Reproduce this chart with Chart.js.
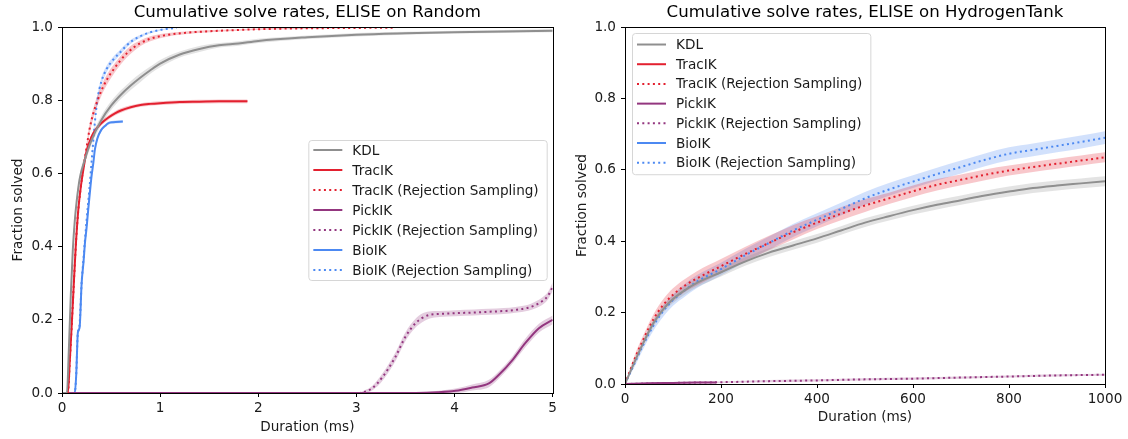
<!DOCTYPE html>
<html>
<head>
<meta charset="utf-8">
<script src="https://cdn.jsdelivr.net/npm/chart.js@4"></script>
<style>
body { margin: 0; background: #fff; width: 1128px; height: 439px; overflow: hidden; position: relative; }
canvas { position: absolute; top: 0; }
#left { left: 0; }
#right { left: 560px; }
</style>
</head>
<body>
<canvas id="left" width="560" height="439"></canvas>
<canvas id="right" width="568" height="439"></canvas>
<script>
// ---------- ELISE on Random (duration in ms) ----------
var rndKdlX = [0, 0.05, 0.07, 0.09, 0.11, 0.13, 0.15, 0.18, 0.23, 0.3, 0.4, 0.5, 0.6, 0.7, 0.8, 0.9, 1.0, 1.2, 1.4, 1.6, 1.8, 2.0, 2.5, 3.0, 3.5, 4.0, 4.5, 5.0];
var rndKdlY = [0, 0, 0.12, 0.27, 0.39, 0.47, 0.525, 0.585, 0.635, 0.69, 0.745, 0.785, 0.815, 0.84, 0.862, 0.882, 0.9, 0.925, 0.94, 0.95, 0.955, 0.962, 0.972, 0.979, 0.983, 0.986, 0.988, 0.99];
var rndKdlErr = [0, 0, 0.01, 0.01, 0.01, 0.01, 0.012, 0.012, 0.012, 0.012, 0.012, 0.012, 0.012, 0.012, 0.012, 0.01, 0.01, 0.008, 0.008, 0.006, 0.006, 0.006, 0.005, 0.005, 0.004, 0.004, 0.004, 0.004];

var rndTracX = [0, 0.06, 0.08, 0.1, 0.115, 0.14, 0.166, 0.19, 0.217, 0.25, 0.3, 0.35, 0.4, 0.47, 0.54, 0.6, 0.7, 0.8, 0.9, 1.0, 1.2, 1.4, 1.6, 1.89];
var rndTracY = [0, 0, 0.09, 0.19, 0.27, 0.4, 0.5, 0.56, 0.609, 0.66, 0.7, 0.722, 0.737, 0.752, 0.764, 0.772, 0.781, 0.787, 0.79, 0.792, 0.795, 0.796, 0.797, 0.797];
var rndTracErr = [0, 0, 0.006, 0.006, 0.006, 0.006, 0.006, 0.006, 0.006, 0.006, 0.006, 0.006, 0.006, 0.006, 0.006, 0.006, 0.005, 0.005, 0.005, 0.005, 0.005, 0.005, 0.005, 0.005];

var rndTracRsX = [0, 0.06, 0.08, 0.1, 0.115, 0.14, 0.166, 0.19, 0.217, 0.25, 0.28, 0.32, 0.37, 0.42, 0.47, 0.52, 0.59, 0.66, 0.73, 0.8, 0.9, 1.06, 1.25, 1.47, 1.8, 2.15, 2.7, 3.37];
var rndTracRsY = [0, 0, 0.09, 0.19, 0.27, 0.4, 0.5, 0.56, 0.615, 0.67, 0.72, 0.765, 0.805, 0.837, 0.862, 0.882, 0.907, 0.928, 0.944, 0.956, 0.968, 0.978, 0.984, 0.988, 0.992, 0.995, 0.997, 0.998];
var rndTracRsErr = [0, 0, 0.008, 0.008, 0.008, 0.01, 0.01, 0.01, 0.012, 0.012, 0.014, 0.014, 0.014, 0.014, 0.014, 0.013, 0.012, 0.011, 0.01, 0.008, 0.007, 0.005, 0.004, 0.003, 0.002, 0.002, 0.001, 0.001];

var rndPickX = [0, 3.6, 3.84, 4.01, 4.18, 4.35, 4.45, 4.59, 4.72, 4.86, 5.0];
var rndPickY = [0, 0, 0.002, 0.006, 0.015, 0.026, 0.049, 0.09, 0.136, 0.177, 0.2];
var rndPickErr = [0, 0.002, 0.004, 0.006, 0.008, 0.01, 0.01, 0.01, 0.012, 0.012, 0.012];

var rndPickRsX = [0, 3.0, 3.08, 3.16, 3.27, 3.4, 3.5, 3.6, 3.67, 3.74, 3.85, 4.01, 4.2, 4.35, 4.5, 4.62, 4.75, 4.82, 4.9, 4.95, 5.0];
var rndPickRsY = [0, 0, 0.003, 0.013, 0.045, 0.1, 0.154, 0.19, 0.205, 0.213, 0.216, 0.218, 0.22, 0.222, 0.224, 0.227, 0.233, 0.24, 0.252, 0.265, 0.29];
var rndPickRsErr = [0, 0, 0.004, 0.006, 0.01, 0.012, 0.012, 0.012, 0.012, 0.01, 0.008, 0.008, 0.008, 0.008, 0.008, 0.008, 0.008, 0.009, 0.01, 0.01, 0.012];

var rndBioX = [0, 0.13, 0.145, 0.16, 0.166, 0.18, 0.2, 0.22, 0.234, 0.25, 0.267, 0.285, 0.3, 0.32, 0.335, 0.36, 0.4, 0.44, 0.47, 0.52, 0.62];
var rndBioY = [0, 0, 0.05, 0.16, 0.17, 0.18, 0.3, 0.36, 0.41, 0.45, 0.5, 0.55, 0.59, 0.63, 0.665, 0.695, 0.719, 0.73, 0.737, 0.74, 0.742];
var rndBioErr = [0, 0, 0.004, 0.004, 0.004, 0.004, 0.005, 0.005, 0.005, 0.005, 0.005, 0.005, 0.005, 0.005, 0.005, 0.005, 0.005, 0.004, 0.004, 0.004, 0.004];

var rndBioRsX = [0, 0.13, 0.145, 0.16, 0.166, 0.18, 0.2, 0.22, 0.25, 0.28, 0.31, 0.335, 0.36, 0.4, 0.454, 0.52, 0.59, 0.66, 0.725, 0.8, 0.894, 1.0, 1.17];
var rndBioRsY = [0, 0, 0.05, 0.16, 0.17, 0.19, 0.3, 0.37, 0.47, 0.56, 0.66, 0.74, 0.8, 0.85, 0.885, 0.91, 0.93, 0.95, 0.964, 0.975, 0.985, 0.992, 0.998];
var rndBioRsErr = [0, 0, 0.004, 0.005, 0.005, 0.005, 0.006, 0.006, 0.008, 0.008, 0.01, 0.01, 0.01, 0.01, 0.009, 0.008, 0.007, 0.006, 0.005, 0.004, 0.003, 0.002, 0.001];

// ---------- ELISE on HydrogenTank (duration in ms) ----------
var h2X = [0, 20, 40, 60, 80, 100, 125, 150, 200, 250, 300, 350, 400, 450, 500, 550, 600, 650, 700, 750, 800, 850, 900, 950, 1000];
var h2KdlY = [0, 0.062, 0.12, 0.172, 0.21, 0.238, 0.263, 0.283, 0.313, 0.343, 0.368, 0.388, 0.408, 0.43, 0.452, 0.47, 0.487, 0.502, 0.515, 0.528, 0.539, 0.549, 0.556, 0.562, 0.568];
var h2KdlErr = [0, 0.006, 0.008, 0.01, 0.01, 0.011, 0.012, 0.012, 0.012, 0.012, 0.012, 0.012, 0.012, 0.012, 0.012, 0.012, 0.012, 0.013, 0.013, 0.013, 0.014, 0.014, 0.014, 0.014, 0.014];
var h2TracRsY = [0, 0.07, 0.13, 0.183, 0.222, 0.25, 0.276, 0.296, 0.33, 0.364, 0.395, 0.425, 0.452, 0.477, 0.5, 0.52, 0.54, 0.558, 0.572, 0.586, 0.598, 0.608, 0.617, 0.626, 0.635];
var h2TracRsErr = [0, 0.01, 0.012, 0.014, 0.016, 0.018, 0.018, 0.02, 0.02, 0.02, 0.02, 0.02, 0.018, 0.018, 0.018, 0.016, 0.016, 0.016, 0.015, 0.015, 0.014, 0.014, 0.014, 0.014, 0.014];
var h2BioRsY = [0, 0.058, 0.115, 0.165, 0.205, 0.235, 0.263, 0.287, 0.322, 0.36, 0.395, 0.43, 0.46, 0.49, 0.52, 0.545, 0.567, 0.588, 0.608, 0.628, 0.645, 0.656, 0.667, 0.678, 0.69];
var h2BioRsErr = [0, 0.01, 0.012, 0.014, 0.016, 0.016, 0.018, 0.018, 0.018, 0.018, 0.018, 0.018, 0.018, 0.018, 0.018, 0.018, 0.018, 0.018, 0.018, 0.018, 0.018, 0.018, 0.018, 0.018, 0.018];
var h2PickX = [0, 50, 100, 150, 190];
var h2PickY = [0, 0.002, 0.003, 0.004, 0.004];
var h2PickErr = [0, 0.002, 0.002, 0.002, 0.002];
var h2PickRsX = [0, 100, 200, 300, 400, 500, 600, 700, 800, 900, 1000];
var h2PickRsY = [0, 0.003, 0.005, 0.008, 0.01, 0.013, 0.015, 0.018, 0.021, 0.024, 0.026];
var h2PickRsErr = [0, 0.002, 0.002, 0.003, 0.003, 0.003, 0.003, 0.003, 0.003, 0.003, 0.003];

var colKdl = [143, 143, 143];
var colTrac = [227, 32, 47];
var colPick = [147, 54, 127];
var colBio = [76, 137, 242];

function rgb(c, a) {
  return 'rgba(' + c[0] + ',' + c[1] + ',' + c[2] + ',' + (a == null ? 1 : a) + ')';
}

// main lines first (drawn on top), shaded bands after them
function buildDatasets(series) {
  var lines = [], bands = [];
  series.forEach(function(s) {
    var xs = s.x || [], ys = s.y || [], err = s.err || [];
    lines.push({
      label: s.label,
      data: xs.map(function(x, i) { return {x: x, y: ys[i]}; }),
      borderColor: rgb(s.color),
      borderWidth: 2,
      borderDash: s.dotted ? [2, 3.3] : [],
      pointRadius: 0,
      fill: false,
      cubicInterpolationMode: 'monotone'
    });
    if (!xs.length) return;
    bands.push({
      data: xs.map(function(x, i) { return {x: x, y: Math.max(0, ys[i] - err[i])}; }),
      borderWidth: 0, pointRadius: 0, fill: false, cubicInterpolationMode: 'monotone'
    });
    bands.push({
      data: xs.map(function(x, i) { return {x: x, y: Math.min(1, ys[i] + err[i])}; }),
      borderWidth: 0, pointRadius: 0, fill: '-1',
      backgroundColor: rgb(s.color, 0.25), cubicInterpolationMode: 'monotone'
    });
  });
  return lines.concat(bands);
}

var FONT = '"DejaVu Sans", sans-serif';
var FS = 13.6;

var frameAndLegend = {
  id: 'frameAndLegend',
  afterDatasetsDraw: function(chart, args, opts) {
    var ctx = chart.ctx, ca = chart.chartArea;
    ctx.save();
    ctx.strokeStyle = '#000';
    ctx.lineWidth = 1;
    ctx.strokeRect(Math.round(ca.left) + 0.5, Math.round(ca.top) + 0.5,
      Math.round(ca.right - ca.left), Math.round(ca.bottom - ca.top));

    var items = chart.data.datasets.filter(function(d) { return d.label; });
    ctx.font = FS + 'px ' + FONT;
    var tw = 0;
    items.forEach(function(d) { tw = Math.max(tw, ctx.measureText(d.label).width); });
    var w = 44 + tw + 8;
    var h = opts.padTop * 2 + opts.rowH * (items.length - 1);
    var x = opts.side === 'right' ? ca.right - opts.dx - w : ca.left + opts.dx;
    var y = opts.top != null ? ca.top + opts.top : (ca.top + ca.bottom) / 2 - h / 2;
    ctx.beginPath();
    ctx.roundRect(x + 0.5, y + 0.5, w, h, 3);
    ctx.fillStyle = 'rgba(255,255,255,0.8)';
    ctx.fill();
    ctx.strokeStyle = '#d6d6d6';
    ctx.stroke();
    ctx.textBaseline = 'middle';
    items.forEach(function(d, i) {
      var cy = y + opts.padTop + opts.rowH * i;
      ctx.beginPath();
      ctx.setLineDash(d.borderDash || []);
      ctx.strokeStyle = d.borderColor;
      ctx.lineWidth = 2;
      ctx.moveTo(x + 5, cy);
      ctx.lineTo(x + 34, cy);
      ctx.stroke();
      ctx.setLineDash([]);
      ctx.fillStyle = '#1a1a1a';
      ctx.fillText(d.label, x + 44, cy + 1);
    });
    ctx.restore();
  }
};

function makeChart(id, cfg) {
  return new Chart(document.getElementById(id), {
    type: 'line',
    data: {datasets: buildDatasets(cfg.series)},
    plugins: [frameAndLegend],
    options: {
      responsive: false,
      animation: false,
      devicePixelRatio: 1,
      layout: {padding: {left: 0, right: cfg.padRight, top: 0, bottom: 0}},
      plugins: {
        legend: {display: false},
        tooltip: {enabled: false},
        title: {
          display: true, text: cfg.title, color: '#000', fullSize: false,
          font: {family: FONT, size: 16.6, weight: 'normal'},
          padding: {top: 3, bottom: 4.1}
        },
        frameAndLegend: cfg.legend
      },
      scales: {
        x: {
          type: 'linear', min: 0, max: cfg.xMax,
          ticks: {stepSize: cfg.xStep, color: '#1a1a1a', font: {family: FONT, size: FS}, padding: 3, maxRotation: 0,
            callback: function(v) { return String(v); }},
          grid: {drawOnChartArea: false, tickLength: 4, color: '#000'},
          border: {display: false},
          title: {display: true, text: 'Duration (ms)', color: '#1a1a1a', font: {family: FONT, size: FS}, padding: {top: 0, bottom: cfg.xTitlePad}},
          afterFit: function(s) { s.height = cfg.xHeight; }
        },
        y: {
          min: 0, max: 1,
          ticks: {stepSize: 0.2, color: '#1a1a1a', font: {family: FONT, size: FS}, padding: 5,
            callback: function(v) { return v.toFixed(1); }},
          grid: {drawOnChartArea: false, tickLength: 4, color: '#000'},
          border: {display: false},
          title: {display: true, text: 'Fraction solved', color: '#1a1a1a', font: {family: FONT, size: FS}, padding: {top: cfg.yTitlePad, bottom: 0}},
          afterFit: function(s) { s.width = cfg.yWidth; }
        }
      }
    }
  });
}

makeChart('left', {
  title: 'Cumulative solve rates, ELISE on Random',
  xMax: 5, xStep: 1, padRight: 6, yWidth: 62, xHeight: 46, xTitlePad: 3, yTitlePad: 10,
  legend: {side: 'right', dx: 6, top: null, padTop: 10, rowH: 20},
  series: [
    {label: 'KDL', x: rndKdlX, y: rndKdlY, err: rndKdlErr, color: colKdl},
    {label: 'TracIK', x: rndTracX, y: rndTracY, err: rndTracErr, color: colTrac},
    {label: 'TracIK (Rejection Sampling)', x: rndTracRsX, y: rndTracRsY, err: rndTracRsErr, color: colTrac, dotted: true},
    {label: 'PickIK', x: rndPickX, y: rndPickY, err: rndPickErr, color: colPick},
    {label: 'PickIK (Rejection Sampling)', x: rndPickRsX, y: rndPickRsY, err: rndPickRsErr, color: colPick, dotted: true},
    {label: 'BioIK', x: rndBioX, y: rndBioY, err: rndBioErr, color: colBio},
    {label: 'BioIK (Rejection Sampling)', x: rndBioRsX, y: rndBioRsY, err: rndBioRsErr, color: colBio, dotted: true}
  ]
});

makeChart('right', {
  title: 'Cumulative solve rates, ELISE on HydrogenTank',
  xMax: 1000, xStep: 200, padRight: 23, yWidth: 65, xHeight: 55, xTitlePad: 13, yTitlePad: 14,
  legend: {side: 'left', dx: 7, top: 6, padTop: 11.5, rowH: 19.7},
  series: [
    {label: 'KDL', x: h2X, y: h2KdlY, err: h2KdlErr, color: colKdl},
    {label: 'TracIK', color: colTrac},
    {label: 'TracIK (Rejection Sampling)', x: h2X, y: h2TracRsY, err: h2TracRsErr, color: colTrac, dotted: true},
    {label: 'PickIK', x: h2PickX, y: h2PickY, err: h2PickErr, color: colPick},
    {label: 'PickIK (Rejection Sampling)', x: h2PickRsX, y: h2PickRsY, err: h2PickRsErr, color: colPick, dotted: true},
    {label: 'BioIK', color: colBio},
    {label: 'BioIK (Rejection Sampling)', x: h2X, y: h2BioRsY, err: h2BioRsErr, color: colBio, dotted: true}
  ]
});
</script>
</body>
</html>
